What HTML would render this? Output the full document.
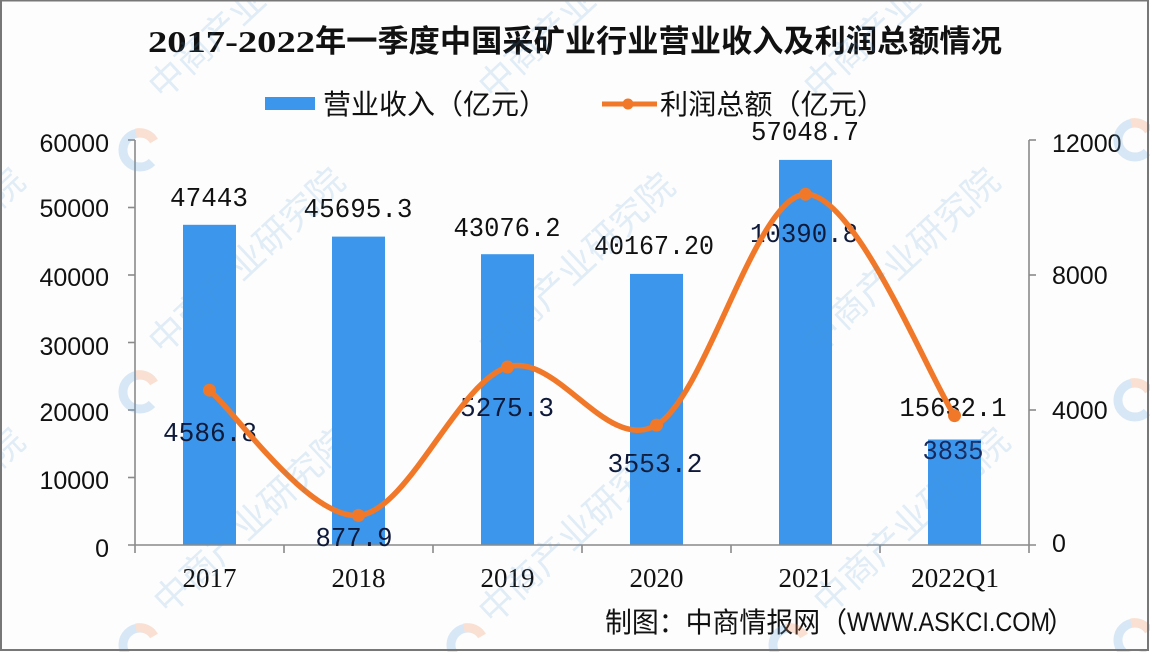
<!DOCTYPE html>
<html>
<head>
<meta charset="utf-8">
<style>
  html,body{margin:0;padding:0;background:#fdfdfd;}
  body{width:1150px;height:652px;overflow:hidden;}
  svg{display:block;}
</style>
</head>
<body>
<svg width="1150" height="652" viewBox="0 0 1150 652" xmlns="http://www.w3.org/2000/svg">
  <rect x="0" y="0" width="1150" height="652" fill="#fdfdfd"/>

  <!-- Title -->
  <text x="148" y="52" font-family="'Liberation Serif', serif" font-weight="bold" font-size="31" fill="#111" textLength="167" lengthAdjust="spacingAndGlyphs">2017-2022</text>
  <text x="315" y="52" font-family="'Liberation Sans','Noto Sans CJK SC',sans-serif" font-weight="bold" font-size="31" fill="#111" textLength="687" lengthAdjust="spacingAndGlyphs">年一季度中国采矿业行业营业收入及利润总额情况</text>

  <!-- Legend -->
  <rect x="265" y="97" width="50" height="13" fill="#3c97ec"/>
  <text x="323" y="114" font-family="'Liberation Sans','Noto Sans CJK SC',sans-serif" font-size="28" fill="#111" textLength="224" lengthAdjust="spacingAndGlyphs">营业收入（亿元）</text>
  <line x1="602" y1="104" x2="657" y2="104" stroke="#f07828" stroke-width="5"/>
  <circle cx="628" cy="104" r="5.5" fill="#f07828"/>
  <text x="660" y="114" font-family="'Liberation Sans','Noto Sans CJK SC',sans-serif" font-size="28" fill="#111" textLength="225" lengthAdjust="spacingAndGlyphs">利润总额（亿元）</text>

  <!-- Bars -->
  <g fill="#3c97ec">
    <rect x="183" y="224.8" width="53" height="320.2"/>
    <rect x="332" y="236.6" width="53" height="308.4"/>
    <rect x="481" y="254.2" width="53" height="290.8"/>
    <rect x="630" y="273.9" width="53" height="271.1"/>
    <rect x="779" y="159.9" width="53" height="385.1"/>
    <rect x="928" y="439.5" width="53" height="105.5"/>
  </g>

  <!-- Axes -->
  <g stroke="#8a8a8a" stroke-width="1.6" fill="none">
    <line x1="135" y1="140" x2="135" y2="545"/>
    <line x1="1029" y1="140" x2="1029" y2="545"/>
    <line x1="128" y1="545" x2="1036" y2="545"/>
    <line x1="128" y1="140" x2="135" y2="140"/>
    <line x1="128" y1="207.5" x2="135" y2="207.5"/>
    <line x1="128" y1="275" x2="135" y2="275"/>
    <line x1="128" y1="342.5" x2="135" y2="342.5"/>
    <line x1="128" y1="410" x2="135" y2="410"/>
    <line x1="128" y1="477.5" x2="135" y2="477.5"/>
    <line x1="1029" y1="140" x2="1036" y2="140"/>
    <line x1="1029" y1="275" x2="1036" y2="275"/>
    <line x1="1029" y1="410" x2="1036" y2="410"/>
    <line x1="135" y1="545" x2="135" y2="553"/>
    <line x1="284" y1="545" x2="284" y2="553"/>
    <line x1="433" y1="545" x2="433" y2="553"/>
    <line x1="582" y1="545" x2="582" y2="553"/>
    <line x1="731" y1="545" x2="731" y2="553"/>
    <line x1="880" y1="545" x2="880" y2="553"/>
    <line x1="1029" y1="545" x2="1029" y2="553"/>
  </g>

  <!-- Left axis labels -->
  <g font-family="'Liberation Sans',sans-serif" font-size="25" fill="#111" text-anchor="end">
    <text x="109" y="152">60000</text>
    <text x="109" y="217">50000</text>
    <text x="109" y="286">40000</text>
    <text x="109" y="355">30000</text>
    <text x="109" y="421">20000</text>
    <text x="109" y="489">10000</text>
    <text x="109" y="557">0</text>
  </g>
  <!-- Right axis labels -->
  <g font-family="'Liberation Sans',sans-serif" font-size="25" fill="#111" text-anchor="start">
    <text x="1052" y="152">12000</text>
    <text x="1052" y="284">8000</text>
    <text x="1052" y="419">4000</text>
    <text x="1052" y="552">0</text>
  </g>
  <!-- X labels -->
  <g font-family="'Liberation Serif',serif" font-size="27" fill="#111" text-anchor="middle">
    <text x="209.5" y="587">2017</text>
    <text x="358.5" y="587">2018</text>
    <text x="507.5" y="587">2019</text>
    <text x="656.5" y="587">2020</text>
    <text x="805.5" y="587">2021</text>
    <text x="955" y="587" textLength="88" lengthAdjust="spacingAndGlyphs">2022Q1</text>
  </g>

  <!-- Data labels -->
  <g font-family="'Liberation Mono',monospace" font-size="27" fill="#111" text-anchor="middle">
    <text x="209" y="206" textLength="78" lengthAdjust="spacingAndGlyphs">47443</text>
    <text x="358" y="217" textLength="109" lengthAdjust="spacingAndGlyphs">45695.3</text>
    <text x="507" y="236" textLength="107" lengthAdjust="spacingAndGlyphs">43076.2</text>
    <text x="654" y="254" textLength="120" lengthAdjust="spacingAndGlyphs">40167.20</text>
    <text x="805" y="140" textLength="108" lengthAdjust="spacingAndGlyphs">57048.7</text>
    <text x="953" y="416" textLength="107" lengthAdjust="spacingAndGlyphs">15632.1</text>

    <text x="210" y="441" textLength="94" lengthAdjust="spacingAndGlyphs" fill="#0f1a3a">4586.8</text>
    <text x="354" y="546" textLength="77" lengthAdjust="spacingAndGlyphs" fill="#0f1a3a">877.9</text>
    <text x="507" y="416" textLength="94" lengthAdjust="spacingAndGlyphs" fill="#0f1a3a">5275.3</text>
    <text x="655" y="472" textLength="95" lengthAdjust="spacingAndGlyphs" fill="#0f1a3a">3553.2</text>
    <text x="804" y="242" textLength="108" lengthAdjust="spacingAndGlyphs" fill="#0f1a3a">10390.8</text>
    <text x="953" y="459" textLength="61" lengthAdjust="spacingAndGlyphs" fill="#16285c">3835</text>
  </g>

  <!-- Profit line (smoothed) -->
  <path d="M209.5,390.2 C234.3,411.1 308.8,519.3 358.5,515.4 C408.2,511.5 457.8,382.1 507.5,367.0 C557.2,352.0 606.8,453.9 656.5,425.1 C706.2,396.3 755.8,195.9 805.5,194.3 C855.2,192.7 929.7,378.7 954.5,415.6"
        fill="none" stroke="#f07828" stroke-width="5.5" stroke-linecap="round" stroke-linejoin="round"/>
  <g fill="#f07828">
    <circle cx="209.5" cy="390.2" r="6.5"/>
    <circle cx="358.5" cy="515.4" r="6.5"/>
    <circle cx="507.5" cy="367.0" r="6.5"/>
    <circle cx="656.5" cy="425.1" r="6.5"/>
    <circle cx="805.5" cy="194.3" r="6.5"/>
    <circle cx="954.5" cy="415.6" r="6.5"/>
  </g>

  <!-- Source -->
  <text x="605" y="632" font-family="'Liberation Sans','Noto Sans CJK SC',sans-serif" font-size="28" fill="#111" textLength="242" lengthAdjust="spacingAndGlyphs">制图：中商情报网（</text>
  <text x="847" y="631" font-family="'Liberation Sans',sans-serif" font-size="27" fill="#111" textLength="203" lengthAdjust="spacingAndGlyphs">WWW.ASKCI.COM</text>
  <text x="1047" y="632" font-family="'Liberation Sans','Noto Sans CJK SC',sans-serif" font-size="28" fill="#111">）</text>

  <!-- Watermarks -->
  <g opacity="0.16" font-family="'Liberation Sans','Noto Sans CJK SC',sans-serif" font-size="36" fill="#4a90d0" text-anchor="middle">
    <text transform="translate(-65,270) rotate(-43)">中商产业研究院</text>
    <text transform="translate(255,270) rotate(-43)">中商产业研究院</text>
    <text transform="translate(585,275) rotate(-43)">中商产业研究院</text>
    <text transform="translate(910,270) rotate(-43)">中商产业研究院</text>
    <text transform="translate(-65,530) rotate(-43)">中商产业研究院</text>
    <text transform="translate(260,530) rotate(-43)">中商产业研究院</text>
    <text transform="translate(585,540) rotate(-43)">中商产业研究院</text>
    <text transform="translate(920,530) rotate(-43)">中商产业研究院</text>
    <text transform="translate(255,15) rotate(-43)">中商产业研究院</text>
    <text transform="translate(585,15) rotate(-43)">中商产业研究院</text>
    <text transform="translate(910,15) rotate(-43)">中商产业研究院</text>
  </g>
  <g opacity="0.25" fill="none" stroke-width="9">
    <g transform="translate(140,150)"><path d="M12,-12 A17,17 0 1 0 12,12" stroke="#6aa6dc"/><path d="M-4,-17 A17,17 0 0 1 14,-9" stroke="#f08a50"/></g>
    <g transform="translate(140,392)"><path d="M12,-12 A17,17 0 1 0 12,12" stroke="#6aa6dc"/><path d="M-4,-17 A17,17 0 0 1 14,-9" stroke="#f08a50"/></g>
    <g transform="translate(140,645)"><path d="M12,-12 A17,17 0 1 0 12,12" stroke="#6aa6dc"/><path d="M-4,-17 A17,17 0 0 1 14,-9" stroke="#f08a50"/></g>
    <g transform="translate(468,645)"><path d="M12,-12 A17,17 0 1 0 12,12" stroke="#6aa6dc"/><path d="M-4,-17 A17,17 0 0 1 14,-9" stroke="#f08a50"/></g>
    <g transform="translate(790,645)"><path d="M12,-12 A17,17 0 1 0 12,12" stroke="#6aa6dc"/><path d="M-4,-17 A17,17 0 0 1 14,-9" stroke="#f08a50"/></g>
    <g transform="translate(1135,140)"><path d="M12,-12 A17,17 0 1 0 12,12" stroke="#6aa6dc"/><path d="M-4,-17 A17,17 0 0 1 14,-9" stroke="#f08a50"/></g>
    <g transform="translate(1135,400)"><path d="M12,-12 A17,17 0 1 0 12,12" stroke="#6aa6dc"/><path d="M-4,-17 A17,17 0 0 1 14,-9" stroke="#f08a50"/></g>
    <g transform="translate(1135,640)"><path d="M12,-12 A17,17 0 1 0 12,12" stroke="#6aa6dc"/><path d="M-4,-17 A17,17 0 0 1 14,-9" stroke="#f08a50"/></g>
  </g>

  <!-- Border -->
  <rect x="1" y="0.5" width="1147" height="649.5" fill="none" stroke="#777" stroke-width="2"/>
</svg>
</body>
</html>
